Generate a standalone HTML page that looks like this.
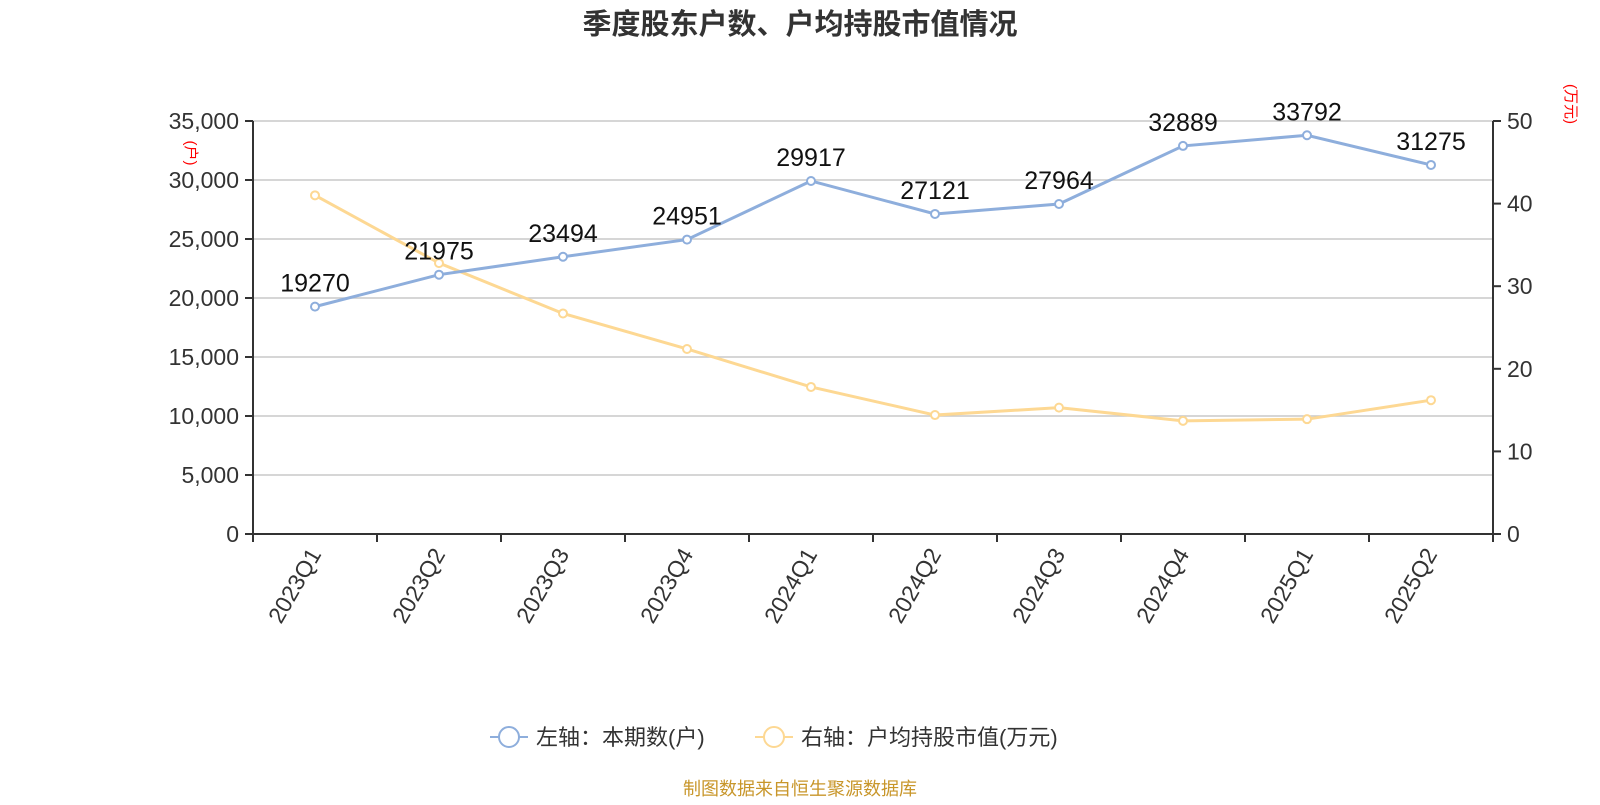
<!DOCTYPE html>
<html><head><meta charset="utf-8">
<style>
body{margin:0;background:#fff;}
svg text{font-family:"Liberation Sans","Noto Sans CJK SC",sans-serif;}
</style></head>
<body>
<svg id="chart" width="1600" height="800" xmlns="http://www.w3.org/2000/svg">
<text x="800" y="34" text-anchor="middle" font-size="29" font-weight="bold" fill="#333">季度股东户数、户均持股市值情况</text>
<g id="grid"></g>
<g id="axes"></g>
<g id="series"></g>
<text transform="translate(186,153) rotate(90)" text-anchor="middle" font-size="15" fill="#f00">(户)</text>
<text transform="translate(1566,104) rotate(90)" text-anchor="middle" font-size="15" fill="#f00">(万元)</text>
<g>
<line x1="490" y1="737" x2="528" y2="737" stroke="#8eaedc" stroke-width="2"/>
<circle cx="509" cy="737" r="10" fill="#fff" stroke="#8eaedc" stroke-width="2"/>
<text x="536" y="745" font-size="22" fill="#333">左轴：本期数(户)</text>
</g>
<g>
<line x1="755" y1="737" x2="793" y2="737" stroke="#fdd893" stroke-width="2"/>
<circle cx="774" cy="737" r="10" fill="#fff" stroke="#fdd893" stroke-width="2"/>
<text x="801" y="745" font-size="22" fill="#333">右轴：户均持股市值(万元)</text>
</g>
<text x="800" y="795" text-anchor="middle" font-size="18" fill="#c8962a">制图数据来自恒生聚源数据库</text>
</svg>
<script>
const categories=["2023Q1","2023Q2","2023Q3","2023Q4","2024Q1","2024Q2","2024Q3","2024Q4","2025Q1","2025Q2"];
const holders=[19270,21975,23494,24951,29917,27121,27964,32889,33792,31275];
const avgValue=[41.0,32.8,26.7,22.4,17.8,14.4,15.3,13.7,13.9,16.2];
const leftTicks=[0,5000,10000,15000,20000,25000,30000,35000];
const rightTicks=[0,10,20,30,40,50];

const NS="http://www.w3.org/2000/svg";
const X0=253,X1=1493,Y0=534,Y1=121;
const bw=(X1-X0)/categories.length;
const xC=i=>X0+bw*(i+0.5);
const yL=v=>Y0-(v/35000)*(Y0-Y1);
const yR=v=>Y0-(v/50)*(Y0-Y1);
function mk(tag,attrs,parent,txt){const e=document.createElementNS(NS,tag);for(const k in attrs)e.setAttribute(k,attrs[k]);if(txt!==undefined)e.textContent=txt;parent.appendChild(e);return e;}
const grid=document.getElementById('grid'),axes=document.getElementById('axes'),series=document.getElementById('series');
const fmt=v=>v.toLocaleString('en-US');
leftTicks.forEach(v=>{
  const y=yL(v);
  if(v>0){const g=mk('line',{x1:X0,x2:X1,y1:y,y2:y,stroke:'#c8c8c8','stroke-width':1.5},grid);
  
  }
  mk('line',{x1:X0-8,x2:X0,y1:y,y2:y,stroke:'#333','stroke-width':2},axes);
  const t=mk('text',{x:X0-14,y:y+8,'text-anchor':'end','font-size':23,fill:'#333'},axes,fmt(v));
  
  
});
rightTicks.forEach(v=>{
  const y=yR(v);
  mk('line',{x1:X1,x2:X1+8,y1:y,y2:y,stroke:'#333','stroke-width':2},axes);
  const t=mk('text',{x:X1+14,y:y+8,'text-anchor':'start','font-size':23,fill:'#333'},axes,String(v));
  
  
});
mk('line',{x1:X0,x2:X0,y1:Y1,y2:Y0+8,stroke:'#333','stroke-width':2},axes);
mk('line',{x1:X1,x2:X1,y1:Y1,y2:Y0+8,stroke:'#333','stroke-width':2},axes);
mk('line',{x1:X0,x2:X1,y1:Y0,y2:Y0,stroke:'#333','stroke-width':2},axes);
for(let i=0;i<=categories.length;i++){const x=X0+bw*i;mk('line',{x1:x,x2:x,y1:Y0,y2:Y0+8,stroke:'#333','stroke-width':2},axes);}
categories.forEach((c,i)=>{
  const x=xC(i),y=Y0+16;
  const t=mk('text',{x:x,y:y,'text-anchor':'end','font-size':23,fill:'#333',transform:`rotate(-60 ${x} ${y})`,dy:'8'},axes,c);
  
  
});
function line(vals,yf,color,name){
  const p=mk('polyline',{points:vals.map((v,i)=>xC(i)+','+yf(v)).join(' '),fill:'none',stroke:color,'stroke-width':3},series);
  
  
  vals.forEach((v,i)=>{
    const c=mk('circle',{cx:xC(i),cy:yf(v),r:4,fill:'#fff',stroke:color,'stroke-width':2},series);
    
    
  });
}
line(avgValue,yR,'#fdd893','avg-value');
line(holders,yL,'#8eaedc','holders');
holders.forEach((v,i)=>{
  const t=mk('text',{x:xC(i),y:yL(v)-15,'text-anchor':'middle','font-size':25,fill:'#111'},series,String(v));
  
  
});
</script>
</body></html>
